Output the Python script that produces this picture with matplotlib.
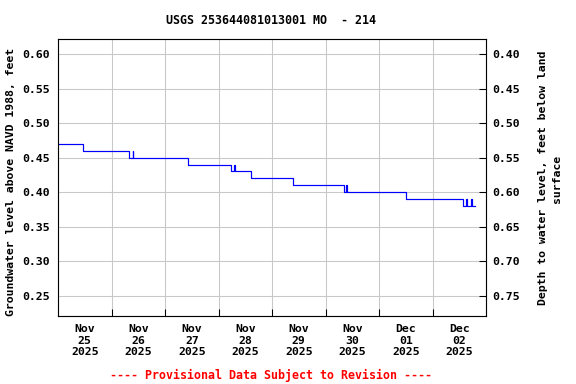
import matplotlib
matplotlib.use("Agg")
import matplotlib.pyplot as plt
import pandas as pd

title = "USGS 253644081013001 MO  - 214"
times = ["2025-11-25 00:00", "2025-11-25 11:00", "2025-11-26 07:45", "2025-11-26 09:30",
         "2025-11-26 09:45", "2025-11-27 10:30", "2025-11-28 05:30", "2025-11-28 07:00",
         "2025-11-28 07:15", "2025-11-28 14:45", "2025-11-29 09:30", "2025-11-30 08:15",
         "2025-11-30 09:15", "2025-11-30 09:30", "2025-12-01 12:00", "2025-12-02 13:30",
         "2025-12-02 15:15", "2025-12-02 15:30", "2025-12-02 17:15", "2025-12-02 17:30",
         "2025-12-02 19:00"]
levels = [0.47, 0.46, 0.45, 0.46, 0.45, 0.44, 0.43, 0.44, 0.43, 0.42, 0.41, 0.40,
          0.41, 0.40, 0.39, 0.38, 0.39, 0.38, 0.39, 0.38, 0.38]
left_ticks = [0.25, 0.30, 0.35, 0.40, 0.45, 0.50, 0.55, 0.60]
right_ticks = [0.40, 0.45, 0.50, 0.55, 0.60, 0.65, 0.70, 0.75]
day_labels = ["Nov\n25\n2025", "Nov\n26\n2025", "Nov\n27\n2025", "Nov\n28\n2025",
              "Nov\n29\n2025", "Nov\n30\n2025", "Dec\n01\n2025", "Dec\n02\n2025"]
land_offset = 1.0

plt.rcParams['font.family'] = ['DejaVu Sans Mono']
plt.rcParams['font.weight'] = 'bold'
fs = 8.6

t = pd.to_datetime(times)
fig = plt.figure(figsize=(6, 4), dpi=96)
ax = fig.add_axes([58/576, 1-316/384, (486-58)/576, (316-39)/384])
ax.plot(t, levels, color='blue', lw=0.9, drawstyle='steps-post')

x0 = pd.Timestamp("2025-11-25 00:00")
x1 = pd.Timestamp("2025-12-03 00:00")
ax.set_xlim(x0, x1)
ylo, yhi = 0.2209, 0.6217
ax.set_ylim(ylo, yhi)

mids = pd.date_range("2025-11-26", "2025-12-02", freq="D")
noons = pd.date_range("2025-11-25 12:00", "2025-12-02 12:00", freq="D")
ax.set_xticks(mids)
ax.set_xticklabels([])
ax.set_xticks(noons, minor=True)
ax.set_xticklabels(day_labels, minor=True, fontsize=fs, fontweight='bold')
ax.tick_params(axis='x', which='minor', length=0, pad=6)
ax.tick_params(axis='x', which='major', length=5, direction='in')
ax.set_yticks(left_ticks)
ax.set_yticklabels([f"{v:.2f}" for v in left_ticks], fontsize=fs, fontweight='bold')
ax.tick_params(axis='y', length=0, pad=6)
ax.grid(True, which='major', color='#c8c8c8', lw=0.8)
ax.set_axisbelow(True)

ax2 = ax.twinx()
ax2.set_ylim(land_offset - ylo, land_offset - yhi)
ax2.set_yticks(right_ticks)
ax2.set_yticklabels([f"{v:.2f}" for v in right_ticks], fontsize=fs, fontweight='bold')
ax2.tick_params(axis='y', length=5, direction='in', pad=4.5)

fig.text(11/576, 1-182/384, "Groundwater level above NAVD 1988, feet", rotation=90,
         ha='center', va='center', fontsize=fs, fontweight='bold')
fig.text(543/576, 1-178/384, "Depth to water level, feet below land", rotation=90,
         ha='center', va='center', fontsize=fs, fontweight='bold')
fig.text(557/576, 1-179/384, "surface", rotation=90,
         ha='center', va='center', fontsize=fs, fontweight='bold')

fig.text(271/576, 1-20/384, title, ha='center', va='center', fontsize=8.7, fontweight='bold')
fig.text(271/576, 1-375/384, "---- Provisional Data Subject to Revision ----",
         ha='center', va='center', fontsize=8.7, fontweight='bold', color='red')

fig.savefig("out.png", dpi=96)
